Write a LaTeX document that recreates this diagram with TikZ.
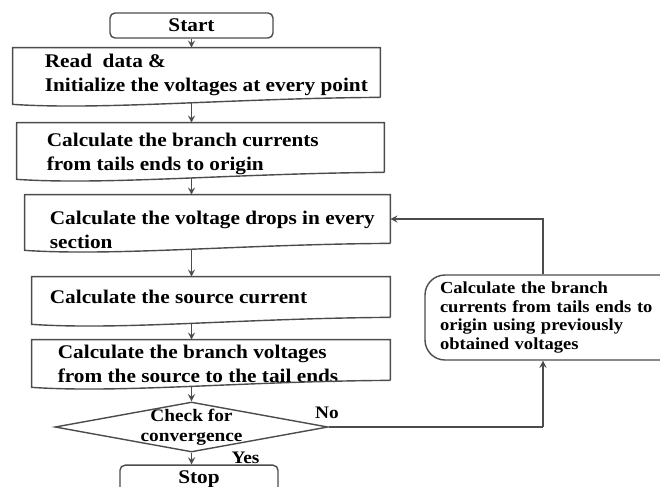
\documentclass[tikz,border=0pt]{standalone}
\usepackage{fontspec}
\setmainfont{Liberation Serif}[FakeStretch=1.1]
\usetikzlibrary{shapes.geometric,calc}

\begin{document}
\begin{tikzpicture}[
    >=stealth,
    line/.style={draw=black!70, line width=0.8pt},
    arr/.style={line, ->},
    docbox/.style={minimum width=7.34cm, minimum height=0.98cm, inner sep=0pt},
    txt/.style={anchor=west, align=left, font=\bfseries\fontsize{11}{13.6}\selectfont},
    endbox/.style={line, rounded corners=0.1cm, minimum width=3.26cm, minimum height=0.5cm, font=\bfseries\fontsize{11}{13}\selectfont},
    small/.style={font=\bfseries\fontsize{10}{11.4}\selectfont}
]
    \useasboundingbox (0,0) rectangle (13.2,-9.72);

    % Main column
    \node[endbox] (start) at (3.83,-0.51) {Start};
    \node[docbox, label={[txt, xshift=0.52cm, yshift=-0.05cm]west:{Read~~data \&\\Initialize the voltages at every point}}] (read) at (3.93,-1.45) {};
    \node[docbox, label={[txt, xshift=0.48cm, yshift=-0.12cm]west:{Calculate the branch currents\\from tails ends to origin}}] (branch) at (4.01,-2.95) {};
    \node[docbox, minimum width=7.3cm, minimum height=0.96cm, label={[txt, xshift=0.38cm, yshift=-0.22cm]west:{Calculate the voltage drops in every\\section}}] (drop) at (4.15,-4.38) {};
    \node[docbox, minimum width=7.16cm, minimum height=0.8cm, label={[txt, xshift=0.24cm]west:{Calculate the source current}}] (source) at (4.22,-5.94) {};
    \node[docbox, minimum width=7.16cm, minimum height=0.8cm, label={[txt, xshift=0.40cm, yshift=-0.07cm]west:{Calculate the branch voltages\\from the source to the tail ends}}] (volt) at (4.22,-7.2) {};

    % Document outlines
    \foreach \n in {read,branch,drop,source,volt}
        \draw[line] (\n.south east) -- (\n.north east) -- (\n.north west) -- ($(\n.south west)+(0,-0.14)$)
            .. controls ($(\n.south west)+(1.8,-0.26)$) and ($(\n.south east)+(-3.0,-0.02)$) .. (\n.south east);

    % Decision
    \node[line, diamond, minimum width=5.46cm, minimum height=1cm, inner sep=0pt,
        label={[small, align=center]center:{Check for\\convergence}}] (check) at (3.83,-8.54) {};
    \node[endbox, minimum width=3.16cm] (stop) at (3.98,-9.59) {Stop};

    % Update box
    \node[line, rounded corners=0.4cm, minimum width=5.54cm, minimum height=1.7cm, inner xsep=0.3cm,
        text width=4.94cm, align=left, font=\bfseries\fontsize{9.6}{10.6}\selectfont] (update) at (11.27,-6.35)
        {Calculate the branch\\currents from tails ends to\\origin using previously\\obtained voltages};

    % Arrows
    \foreach \a/\b/\s in {start/read/0, read/branch/0.11, branch/drop/0.11, drop/source/0.11, source/volt/0.11}
        \draw[arr] ($(\a.south -| start.south)+(0,-\s)$) -- (\b.north -| start.south);
    \draw[arr] ($(volt.south -| check.north)+(0,-0.11)$) -- (check.north);
    \draw[arr] (check.south) -- (check.south |- stop.north);

    % Loop back
    \coordinate (back) at (10.86,-8.54);
    \draw[line] (check.east) -- (back);
    \draw[arr] (back) -- (back |- update.south);
    \draw[arr] (back |- update.north) |- (drop.east);

    \node[small] (no) at (6.54,-8.26) {No};
    \node[small] (yes) at (4.91,-9.16) {Yes};
\end{tikzpicture}
\end{document}
